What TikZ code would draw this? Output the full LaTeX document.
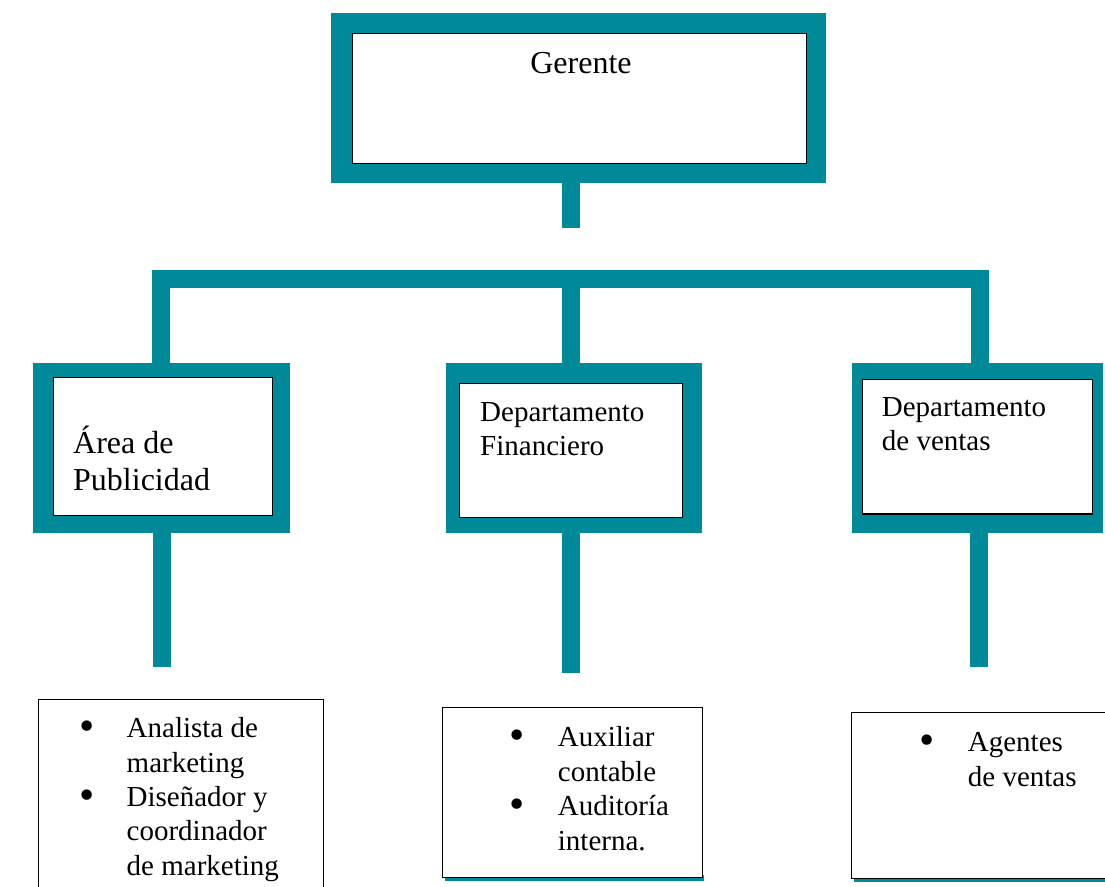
\documentclass[tikz,border=0pt]{standalone}
\usepackage{fontspec}
\setmainfont{Liberation Serif}
\definecolor{orgteal}{RGB}{0,137,153}

\tikzset{
  frame/.style={fill=orgteal, draw=none, anchor=north west, inner sep=0pt},
  box/.style={draw=black, fill=white, line width=1.2pt, anchor=north west, inner sep=0pt},
  stem/.style={orgteal, line width=18pt, line join=miter},
  title/.style={anchor=base west, inner sep=0pt, align=left, font=\fontsize{29}{33.3}\selectfont},
  items/.style={anchor=base west, inner sep=0pt, align=left, font=\fontsize{29}{34.3}\selectfont},
}
\newcommand{\itembul}[1]{\makebox[#1][l]{\raisebox{-2.6pt}{\scalebox{1.5}{\textbullet}}}}

\begin{document}
\begin{tikzpicture}[x=1pt, y=-1pt]
        \useasboundingbox (0,0) rectangle (1105,886);
        \clip (0,0) rectangle (1105,886);
        % top
        \node[frame, minimum width=495pt, minimum height=170pt] (gerF) at (331,13) {};
        \node[box, minimum width=454pt, minimum height=130pt] (ger) at (351.5,32.5) {};
        \node[anchor=base, inner sep=0pt, font=\fontsize{32}{36}\selectfont] (gerT) at (581,73) {Gerente};
        \coordinate (gerS) at (570.5,228);
        \draw[stem] (gerS |- gerF.south) -- (gerS);
        % middle row
        \node[frame, minimum width=257pt, minimum height=170pt] (pubF) at (33,363) {};
        \node[box, minimum width=219pt, minimum height=138pt] (pub) at (52.7,377) {};
        \node[frame, minimum width=256pt, minimum height=170pt] (finF) at (445.7,363) {};
        \node[box, minimum width=222.7pt, minimum height=134pt] (fin) at (459,382.7) {};
        \node[frame, minimum width=251.3pt, minimum height=170pt] (venF) at (851.7,363) {};
        \node[box, minimum width=230pt, minimum height=134.3pt] (ven) at (861.7,379) {};
        % base anchor of these sits on the last line
        \node[title, font=\fontsize{32}{36.3}\selectfont] (pubT) at (73,490) {Área de\\Publicidad};
        \node[title] (finT) at (480,455) {Departamento\\Financiero};
        \node[title] (venT) at (881.7,450) {Departamento\\de ventas};
        % bar
        \coordinate (barL) at (161.3,279);
        \coordinate (barR) at (979.5,279);
        \draw[stem] (pubF.north -| barL) |- (barR) -- (barR |- venF.north);
        \draw[stem] (finF.north -| gerS) -- (gerS |- barL);
        % stems down
        \coordinate (pubE) at (161.7,667);
        \coordinate (finE) at (570.5,673.3);
        \coordinate (venE) at (979.3,667);
        \draw[stem] (pubE |- pubF.south) -- (pubE);
        \draw[stem] (finE |- finF.south) -- (finE);
        \draw[stem] (venE |- venF.south) -- (venE);
        % bottom row
        \fill[orgteal] (445,875) rectangle (704,881);
        \fill[orgteal] (854,876) rectangle (1110,882);
        \node[box, minimum width=285pt, minimum height=200pt] (ana) at (38,699) {};
        \node[box, minimum width=260pt, minimum height=170pt] (aud) at (441.7,707) {};
        \node[box, minimum width=260pt, minimum height=166pt] (age) at (851,712) {};
        \node[items] (anaL) at (79.5,875) {\itembul{47pt}Analista de\\\hspace*{47pt}marketing\\\itembul{47pt}Diseñador y\\\hspace*{47pt}coordinador\\\hspace*{47pt}de marketing};
        \node[items, font=\fontsize{29}{34.4}\selectfont] (audL) at (509,850) {\itembul{48.7pt}Auxiliar\\\hspace*{48.7pt}contable\\\itembul{48.7pt}Auditoría\\\hspace*{48.7pt}interna.};
        \node[items, font=\fontsize{29}{35}\selectfont] (ageL) at (919,786.7) {\itembul{48.7pt}Agentes\\\hspace*{48.7pt}de ventas};
\end{tikzpicture}
\end{document}
